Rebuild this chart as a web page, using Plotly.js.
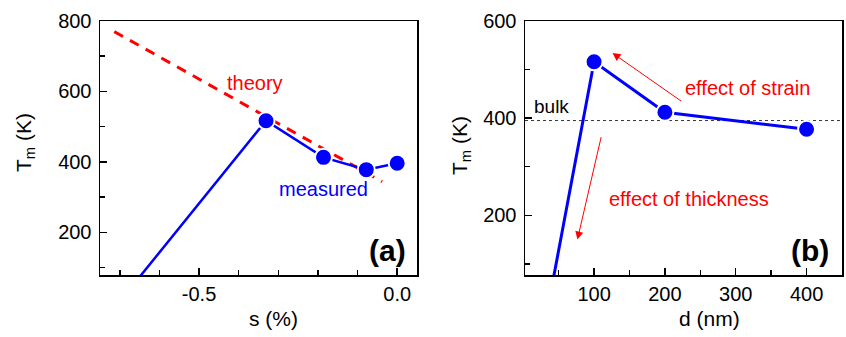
<!DOCTYPE html>
<html>
<head>
<meta charset="utf-8">
<script src="https://cdn.plot.ly/plotly-3.0.1.min.js"></script>
<style>html,body{margin:0;padding:0;background:#fff;}#chart{width:846px;height:337px;}</style>
</head>
<body>
<div id="chart"></div>
<script>
// ---- data ----
// panel (a): melting temperature vs strain
const strainS = [-0.667, -0.331, -0.186, -0.078, 0.0];
const strainT = [50, 517, 413, 378, 396];
const theoryS = [-0.714, -0.038];
const theoryT = [770, 344];
// panel (b): melting temperature vs thickness
const thickD = [40, 100, 200, 400];
const thickT = [50, 516, 412, 377];
const bulkT = 395;
// tick labels
const aTickVals = [-0.5, 0.0];
const aTickText = ['-0.5', '0.0'];
const aYTicks = [200, 400, 600, 800];
const bXTicks = [100, 200, 300, 400];
const bYTicks = [200, 400, 600];

const W = 846, H = 337;
const px = x => x / W;
const py = y => 1 - y / H;
const FONT = 'Liberation Sans, Arial, Helvetica, sans-serif';
const RED = '#ff0000', BLUE = '#0000ff';

function axisBase(extra) {
  return Object.assign({
    showline: true, mirror: true, linewidth: 1.5, linecolor: '#000',
    showgrid: false, zeroline: false,
    ticks: 'inside', ticklen: 7, tickwidth: 1.5, tickcolor: '#000',
    tickfont: {family: FONT, size: 20, color: '#000'},
    fixedrange: true
  }, extra);
}

const markerStyle = {size: 17, color: BLUE, line: {color: '#fff', width: 2}};

const traces = [
  {x: theoryS, y: theoryT, xaxis: 'x', yaxis: 'y', mode: 'lines',
   line: {color: RED, width: 3, dash: '10px,8px'}, hoverinfo: 'skip'},
  {x: strainS, y: strainT, xaxis: 'x', yaxis: 'y', mode: 'lines+markers',
   line: {color: BLUE, width: 2.5}, marker: markerStyle, hoverinfo: 'skip'},
  {x: thickD, y: thickT, xaxis: 'x2', yaxis: 'y2', mode: 'lines+markers',
   line: {color: BLUE, width: 3}, marker: markerStyle, hoverinfo: 'skip'}
];

const ydom = [py(275), py(21)];
const minorTick = {ticks: 'inside', ticklen: 5, tickwidth: 1.5, tickcolor: '#000', tick0: 0};

const layout = {
  width: W, height: H,
  margin: {l: 0, r: 0, t: 0, b: 0},
  paper_bgcolor: '#fff', plot_bgcolor: '#fff',
  showlegend: false,
  font: {family: FONT, color: '#000'},
  xaxis: axisBase({domain: [px(100), px(417)], anchor: 'y', range: [-0.75, 0.05],
    tickmode: 'array', tickvals: aTickVals, ticktext: aTickText,
    minor: Object.assign({dtick: 0.1}, minorTick)}),
  yaxis: axisBase({domain: ydom, anchor: 'x', range: [79, 800],
    tickmode: 'array', tickvals: aYTicks, ticklabelstandoff: 3,
    minor: Object.assign({dtick: 100}, minorTick)}),
  xaxis2: axisBase({domain: [px(525), px(842)], anchor: 'y2', range: [2.5, 450],
    tickmode: 'array', tickvals: bXTicks,
    minor: Object.assign({dtick: 50}, minorTick)}),
  yaxis2: axisBase({domain: ydom, anchor: 'x2', range: [77, 600],
    tickmode: 'array', tickvals: bYTicks, ticklabelstandoff: 3,
    minor: Object.assign({dtick: 100}, minorTick)}),
  shapes: [
    {type: 'line', xref: 'x2 domain', yref: 'y2', x0: 0, x1: 1, y0: bulkT, y1: bulkT,
     line: {color: '#333', width: 1, dash: 'dot'}, layer: 'below'}
  ],
  annotations: [
    // axis titles
    {text: 'T<sub>m</sub> (K)', xref: 'paper', yref: 'paper', x: px(25), y: py(143), textangle: -90,
     showarrow: false, font: {size: 21}, xanchor: 'center', yanchor: 'middle'},
    {text: 's (%)', xref: 'paper', yref: 'paper', x: px(273), y: py(318),
     showarrow: false, font: {size: 21}, xanchor: 'center', yanchor: 'middle'},
    {text: 'T<sub>m</sub> (K)', xref: 'paper', yref: 'paper', x: px(461), y: py(145), textangle: -90,
     showarrow: false, font: {size: 21}, xanchor: 'center', yanchor: 'middle'},
    {text: 'd (nm)', xref: 'paper', yref: 'paper', x: px(709), y: py(318),
     showarrow: false, font: {size: 21}, xanchor: 'center', yanchor: 'middle'},
    // panel labels
    {text: '<b>(a)</b>', xref: 'paper', yref: 'paper', x: px(387), y: py(250),
     showarrow: false, font: {size: 30}, xanchor: 'center', yanchor: 'middle'},
    {text: '<b>(b)</b>', xref: 'paper', yref: 'paper', x: px(810), y: py(250),
     showarrow: false, font: {size: 30}, xanchor: 'center', yanchor: 'middle'},
    // panel (a) text
    {text: 'theory', xref: 'paper', yref: 'paper', x: px(255), y: py(83),
     showarrow: false, font: {size: 20, color: RED}, xanchor: 'center', yanchor: 'middle'},
    {text: 'measured', xref: 'paper', yref: 'paper', x: px(323), y: py(189),
     showarrow: false, font: {size: 20, color: BLUE}, xanchor: 'center', yanchor: 'middle'},
    // panel (b) text
    {text: 'bulk', xref: 'paper', yref: 'paper', x: px(551), y: py(106),
     showarrow: false, font: {size: 19, color: '#000'}, xanchor: 'center', yanchor: 'middle'},
    {text: 'effect of strain', xref: 'paper', yref: 'paper', x: px(747), y: py(88),
     showarrow: false, font: {size: 20, color: RED}, xanchor: 'center', yanchor: 'middle'},
    {text: 'effect of thickness', xref: 'paper', yref: 'paper', x: px(689), y: py(199),
     showarrow: false, font: {size: 20, color: RED}, xanchor: 'center', yanchor: 'middle'},
    // arrows
    {xref: 'x2', yref: 'y2', axref: 'x2', ayref: 'y2', x: 126, y: 534, ax: 225, ay: 433,
     text: '', showarrow: true, arrowhead: 2, arrowsize: 1.6, arrowwidth: 1, arrowcolor: RED},
    {xref: 'x2', yref: 'y2', axref: 'x2', ayref: 'y2', x: 76.5, y: 150, ax: 110.5, ay: 364,
     text: '', showarrow: true, arrowhead: 2, arrowsize: 1.6, arrowwidth: 1, arrowcolor: RED}
  ]
};

Plotly.newPlot('chart', traces, layout, {staticPlot: true, displayModeBar: false});
</script>
</body>
</html>
